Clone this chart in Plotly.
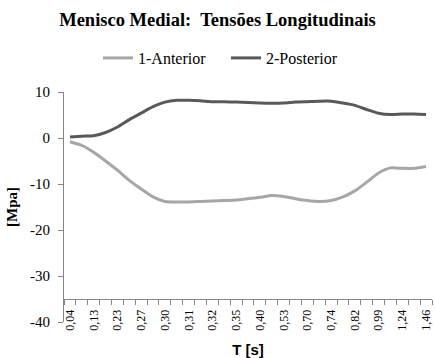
import plotly.graph_objects as go

# Longitudinal stress in the medial meniscus, one value per time step
anterior = [-0.8, -1.6, -3.1, -5.0, -7.0, -9.2, -11.1, -12.8, -13.8, -13.9,
            -13.9, -13.8, -13.7, -13.6, -13.5, -13.2, -12.9, -12.5, -12.7, -13.2,
            -13.6, -13.8, -13.6, -12.8, -11.5, -9.6, -7.6, -6.5, -6.6, -6.6, -6.2]
posterior = [0.2, 0.4, 0.5, 1.2, 2.4, 4.0, 5.4, 6.8, 7.8, 8.2,
             8.2, 8.1, 7.9, 7.9, 7.8, 7.7, 7.6, 7.55, 7.6, 7.8,
             7.9, 8.0, 8.0, 7.6, 7.1, 6.2, 5.4, 5.1, 5.2, 5.2, 5.1]

# Time labels shown on every second step
t_labels = ["0,04", "0,13", "0,23", "0,27", "0,30", "0,31", "0,32", "0,35",
            "0,40", "0,53", "0,70", "0,74", "0,82", "0,99", "1,24", "1,46"]
y_ticks = [-40, -30, -20, -10, 0, 10]
y_labels = ["-40", "-30", "-20", "-10", "0", "10"]

steps = list(range(len(anterior)))

SERIF = "Liberation Serif, Times New Roman, serif"
SANS = "Liberation Sans, Arial, sans-serif"
AXIS_GREY = "#868686"

fig = go.Figure()
fig.add_trace(go.Scatter(
    x=steps, y=anterior, name="1-Anterior", mode="lines",
    line=dict(color="#A6A6A6", width=3, shape="spline", smoothing=0.6),
))
fig.add_trace(go.Scatter(
    x=steps, y=posterior, name="2-Posterior", mode="lines",
    line=dict(color="#595959", width=3, shape="spline", smoothing=0.6),
))

fig.update_layout(
    width=435, height=358,
    margin=dict(l=64, r=3, t=92, b=36),
    paper_bgcolor="white", plot_bgcolor="white",
    title=dict(
        text="<b>Menisco Medial:  Tensões Longitudinais</b>",
        font=dict(family=SERIF, size=18.5, color="#000000"),
        x=0.5, xref="container", xanchor="center",
        y=1 - 20 / 358, yref="container", yanchor="middle",
    ),
    legend=dict(
        orientation="h",
        x=226 / 435, xref="container", xanchor="center",
        y=1 - 58 / 358, yref="container", yanchor="middle",
        font=dict(family=SERIF, size=16, color="#000000"),
        bgcolor="rgba(0,0,0,0)",
        entrywidth=83,
    ),
    xaxis=dict(
        range=[-0.5, len(steps) - 0.5],
        anchor="free", position=0.1,
        tickmode="array", tickvals=steps[::2], ticktext=t_labels,
        tickangle=-90, ticks="", ticklabelstandoff=5,
        tickfont=dict(family=SERIF, size=12, color="#000000"),
        showline=True, linecolor=AXIS_GREY, linewidth=1,
        showgrid=False, zeroline=False,
        minor=dict(tick0=-0.5, dtick=1, ticks="outside", ticklen=5,
                   tickcolor=AXIS_GREY, tickwidth=1, showgrid=False),
        title=dict(text="<b>T [s]</b>", font=dict(family=SANS, size=15, color="#000000"),
                   standoff=14),
        automargin=False,
    ),
    yaxis=dict(
        range=[-40, 10],
        tickmode="array", tickvals=y_ticks, ticktext=y_labels,
        ticks="outside", ticklen=5, tickcolor=AXIS_GREY, ticklabelstandoff=5,
        tickfont=dict(family=SERIF, size=15, color="#000000"),
        showline=True, linecolor=AXIS_GREY, linewidth=1,
        showgrid=False, zeroline=False,
        title=dict(text="<b>[Mpa]</b>", font=dict(family=SERIF, size=15, color="#000000"),
                   standoff=8),
        automargin=False,
    ),
)

fig.write_html("out.html")
